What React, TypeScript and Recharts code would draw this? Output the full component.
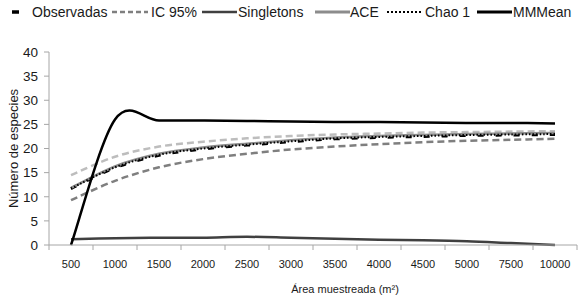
import { CartesianGrid, Legend, Line, LineChart, XAxis, YAxis } from 'recharts'

// sampled area (m2) categories
const AREAS = ['500', '1000', '1500', '2000', '2500', '3000', '3500', '4000', '4500', '5000', '7500', '10000']

const OBSERVADAS = [11.7, 16.0, 18.6, 19.9, 20.7, 21.4, 22.0, 22.3, 22.5, 22.7, 22.8, 22.9]
const IC_UPPER = [14.5, 18.3, 20.4, 21.4, 22.1, 22.6, 22.9, 23.1, 23.3, 23.4, 23.5, 23.6]
const IC_LOWER = [9.3, 13.3, 16.1, 17.8, 18.9, 19.8, 20.4, 20.9, 21.3, 21.6, 21.8, 22.0]
const SINGLETONS = [1.2, 1.4, 1.5, 1.5, 1.7, 1.5, 1.3, 1.1, 1.0, 0.8, 0.4, 0.0]
const ACE = [11.8, 16.3, 18.9, 20.2, 21.0, 21.7, 22.3, 22.6, 22.8, 23.0, 23.1, 23.2]
const CHAO1 = [11.7, 16.1, 18.7, 20.0, 20.8, 21.5, 22.1, 22.4, 22.6, 22.8, 22.9, 23.0]
const MMMEAN = [0, 26.0, 25.8, 25.8, 25.7, 25.6, 25.5, 25.5, 25.4, 25.3, 25.3, 25.2]

const Y_TICKS = [0, 5, 10, 15, 20, 25, 30, 35, 40]

const data = AREAS.map((area, i) => ({
    area,
    observadas: OBSERVADAS[i],
    icUpper: IC_UPPER[i],
    icLower: IC_LOWER[i],
    singletons: SINGLETONS[i],
    ace: ACE[i],
    chao1: CHAO1[i],
    mmmean: MMMEAN[i],
}))

const W = 580
const H = 308
const X_AXIS_H = 63
const AXIS_Y = H - X_AXIS_H
const HALF_BAND = 22
const FONT = '"Liberation Sans", Arial, sans-serif'

// smoothed line like the spreadsheet one (catmull-rom through every point)
const smoothCurve = (context: any) => {
    let xs: number[] = []
    let ys: number[] = []
    return {
        areaStart() {},
        areaEnd() {},
        lineStart() {
            xs = []
            ys = []
        },
        lineEnd() {
            const n = xs.length
            if (!n) return
            context.moveTo(xs[0], ys[0])
            for (let i = 0; i < n - 1; i++) {
                const a = Math.max(i - 1, 0)
                const d = Math.min(i + 2, n - 1)
                context.bezierCurveTo(
                    xs[i] + (xs[i + 1] - xs[a]) / 6,
                    ys[i] + (ys[i + 1] - ys[a]) / 6,
                    xs[i + 1] - (xs[d] - xs[i]) / 6,
                    ys[i + 1] - (ys[d] - ys[i]) / 6,
                    xs[i + 1],
                    ys[i + 1],
                )
            }
        },
        point(x: number, y: number) {
            xs.push(+x)
            ys.push(+y)
        },
    }
}

const XTick = ({ x, payload, index }: any) => {
    const last = index === AREAS.length - 1
    return (
        <g>
            <line x1={x - HALF_BAND} x2={x - HALF_BAND} y1={AXIS_Y} y2={AXIS_Y + 5} stroke="#a6a6a6" />
            {last && <line x1={x + HALF_BAND} x2={x + HALF_BAND} y1={AXIS_Y} y2={AXIS_Y + 5} stroke="#a6a6a6" />}
            <text x={x} y={AXIS_Y + 23} textAnchor="middle" fontSize={11} fill="#1a1a1a">
                {payload.value}
            </text>
        </g>
    )
}

const YTitle = ({ viewBox }: any) => {
    const cx = viewBox.x + 13
    const cy = viewBox.y + viewBox.height / 2
    return (
        <text x={cx} y={cy} transform={`rotate(-90 ${cx} ${cy})`} textAnchor="middle" dominantBaseline="central" fontSize={13} fill="#1a1a1a">
            Número de especies
        </text>
    )
}

const XTitle = ({ viewBox }: any) => (
    <text x={viewBox.x + 296} y={AXIS_Y + 48} textAnchor="middle" fontSize={11} fill="#1a1a1a">
        Área muestreada (m²)
    </text>
)

const LEGEND = [
    { label: 'Observadas', iconLeft: 12, iconWidth: 7, textLeft: 32, stroke: '#000', width: 3.5, dash: undefined },
    { label: 'IC 95%', iconLeft: 112, iconWidth: 36, textLeft: 151, stroke: '#7f7f7f', width: 2.5, dash: '5 3' },
    { label: 'Singletons', iconLeft: 202, iconWidth: 35, textLeft: 238, stroke: '#404040', width: 2.5, dash: undefined },
    { label: 'ACE', iconLeft: 315, iconWidth: 35, textLeft: 350, stroke: '#8c8c8c', width: 3, dash: undefined },
    { label: 'Chao 1', iconLeft: 387, iconWidth: 35, textLeft: 425, stroke: '#000', width: 2, dash: '2 2' },
    { label: 'MMMean', iconLeft: 477, iconWidth: 35, textLeft: 513, stroke: '#000', width: 3, dash: undefined },
]

const ChartLegend = () => (
    <div style={{ position: 'relative', width: W, height: 48 }}>
        {LEGEND.map((item) => (
            <div key={item.label}>
                <svg width={item.iconWidth} height={10} style={{ position: 'absolute', left: item.iconLeft, top: 7 }}>
                    <line x1={0} x2={item.iconWidth} y1={5} y2={5} stroke={item.stroke} strokeWidth={item.width} strokeDasharray={item.dash} />
                </svg>
                <span style={{ position: 'absolute', left: item.textLeft, top: 3, fontSize: 14, lineHeight: '18px', color: '#1a1a1a', whiteSpace: 'nowrap' }}>
                    {item.label}
                </span>
            </div>
        ))}
    </div>
)

export default function App() {
    return (
        <div style={{ position: 'absolute', left: 0, top: 0, width: W, height: H, background: '#fff', fontFamily: FONT }}>
            <LineChart width={W} height={H} data={data} margin={{ top: 4, right: 3, bottom: 0, left: 0 }}>
                <CartesianGrid horizontal={false} vertical={false} />
                <Legend verticalAlign="top" height={48} wrapperStyle={{ top: 0, left: 0 }} content={<ChartLegend />} />
                <XAxis
                    dataKey="area"
                    interval={0}
                    height={X_AXIS_H}
                    padding={{ left: HALF_BAND, right: HALF_BAND }}
                    tickLine={false}
                    axisLine={{ stroke: '#a6a6a6' }}
                    tick={<XTick />}
                    label={<XTitle />}
                />
                <YAxis
                    width={49}
                    domain={[0, 40]}
                    ticks={Y_TICKS}
                    interval={0}
                    tickSize={5}
                    tickMargin={6}
                    tickLine={{ stroke: '#a6a6a6' }}
                    axisLine={{ stroke: '#a6a6a6' }}
                    tick={{ fontSize: 13.5, fill: '#1a1a1a' }}
                    label={<YTitle />}
                />
                <Line dataKey="icUpper" type={smoothCurve} stroke="#bdbdbd" strokeWidth={2.5} strokeDasharray="7 4" dot={false} activeDot={false} isAnimationActive={false} />
                <Line dataKey="icLower" type={smoothCurve} stroke="#7f7f7f" strokeWidth={2.5} strokeDasharray="7 4" dot={false} activeDot={false} isAnimationActive={false} />
                <Line dataKey="observadas" type={smoothCurve} stroke="#000" strokeWidth={3} strokeDasharray="6 12" dot={false} activeDot={false} isAnimationActive={false} />
                <Line dataKey="ace" type={smoothCurve} stroke="#8c8c8c" strokeWidth={2.5} dot={false} activeDot={false} isAnimationActive={false} />
                <Line dataKey="chao1" type={smoothCurve} stroke="#000" strokeWidth={2} strokeDasharray="1.5 2" dot={false} activeDot={false} isAnimationActive={false} />
                <Line dataKey="singletons" type={smoothCurve} stroke="#404040" strokeWidth={2.5} dot={false} activeDot={false} isAnimationActive={false} />
                <Line dataKey="mmmean" type={smoothCurve} stroke="#000" strokeWidth={2.5} dot={false} activeDot={false} isAnimationActive={false} />
            </LineChart>
        </div>
    )
}
